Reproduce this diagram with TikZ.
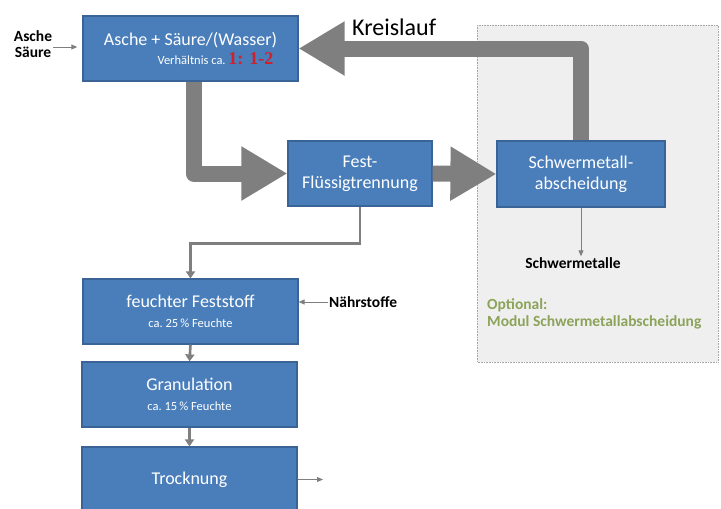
\documentclass[tikz,border=0pt]{standalone}
\usepackage{fontspec}
\setmainfont{Carlito}
\newfontfamily\numfont{Liberation Serif}
\usetikzlibrary{arrows.meta}

\definecolor{boxblue}{HTML}{4A7EBB}
\definecolor{boxline}{HTML}{3A6496}
\definecolor{arrowgray}{HTML}{7F7F7F}
\definecolor{optgreen}{HTML}{8CA35A}
\definecolor{numred}{HTML}{D0202A}
\definecolor{regionfill}{HTML}{EFEFEF}

\newcommand{\boxfont}{\fontsize{18}{21}\selectfont}
\newcommand{\subfont}{\fontsize{12.5}{14}\selectfont}
\newcommand{\labelfont}{\fontsize{15.5}{16}\selectfont\bfseries}

\tikzset{
  stage/.style={draw=boxline, line width=1.2pt, fill=boxblue, text=white, align=center,
                inner sep=0pt, font=\boxfont},
  fatarrow/.style={draw=arrowgray, line width=16pt, line join=round,
                   -{Triangle[length=46pt,width=51pt]}},
  thinarrow/.style={draw=arrowgray, line width=2.6pt, -{Triangle[length=7pt,width=9pt]}},
  hairarrow/.style={draw=arrowgray, line width=1pt, -{Triangle[length=6pt,width=5pt]}},
  sidelabel/.style={font=\labelfont, align=center, inner sep=1pt}
}

\begin{document}
\begin{tikzpicture}[x=1pt,y=-1pt]
\useasboundingbox (0,0) rectangle (721,509);

\draw[draw=gray!70, fill=regionfill, densely dotted, line width=0.6pt] (477,25) rectangle (718,362);

\node[stage, minimum width=215pt, minimum height=65pt] (mix) at (190.5,48.5)
  {Asche + Säure/(Wasser)\\[-2pt]\hspace*{50pt}{\subfont Verhältnis ca.\ \textcolor{numred}{\numfont\bfseries\fontsize{18}{14}\selectfont 1: 1-2}}};
\node[stage, minimum width=144pt, minimum height=65pt] (trenn) at (360,173.5) {Fest-\\Flüssigtrennung};
\node[stage, minimum width=168pt, minimum height=66pt] (schwer) at (581,174) {Schwermetall-\\abscheidung};
\node[stage, minimum width=215pt, minimum height=65pt] (feucht) at (190.5,311.5)
  {feuchter Feststoff\\[-1pt]{\subfont ca.\ 25\,\% Feuchte}};
\node[stage, minimum width=215pt, minimum height=65pt] (granul) at (189.5,394.5)
  {Granulation\\[-1pt]{\subfont ca.\ 15\,\% Feuchte}};
\node[stage, minimum width=215pt, minimum height=65pt] (trock) at (189.5,479.5) {Trocknung};

\node[sidelabel] (input) at (33,44) {Asche\\Säure};
\node[sidelabel, anchor=west] (naehr) at (328,302) {Nährstoffe};
\node[sidelabel] (metalle) at (573,263) {Schwermetalle};
\node[anchor=base west, font=\fontsize{24}{26}\selectfont, inner sep=0pt] (kreis) at (352,35) {Kreislauf};
\node[anchor=base west, align=left, font=\labelfont, text=optgreen, inner sep=0pt] (opt) at (487,326)
  {Optional:\\[1pt]Modul Schwermetallabscheidung};
\coordinate (ende) at (323,479.5);

\draw[fatarrow] (schwer.north) |- (mix.east);
\draw[fatarrow] ([xshift=3pt]mix.south) |- (trenn.west);
\draw[fatarrow] (trenn.east) -- (schwer.west);

\draw[thinarrow] (trenn.south) -- ++(0,37) -| (feucht.north);
\draw[thinarrow] (feucht.south) -- (granul.north);
\draw[thinarrow] (granul.south) -- (trock.north);

\draw[hairarrow] (input.east) ++(0,3) -- ++(24,0);
\draw[hairarrow] (naehr.west) -- (naehr.west -| feucht.east);
\draw[hairarrow] (schwer.south) -- (schwer.south |- metalle.north);
\draw[hairarrow] (trock.east) -- (ende);
\end{tikzpicture}
\end{document}
